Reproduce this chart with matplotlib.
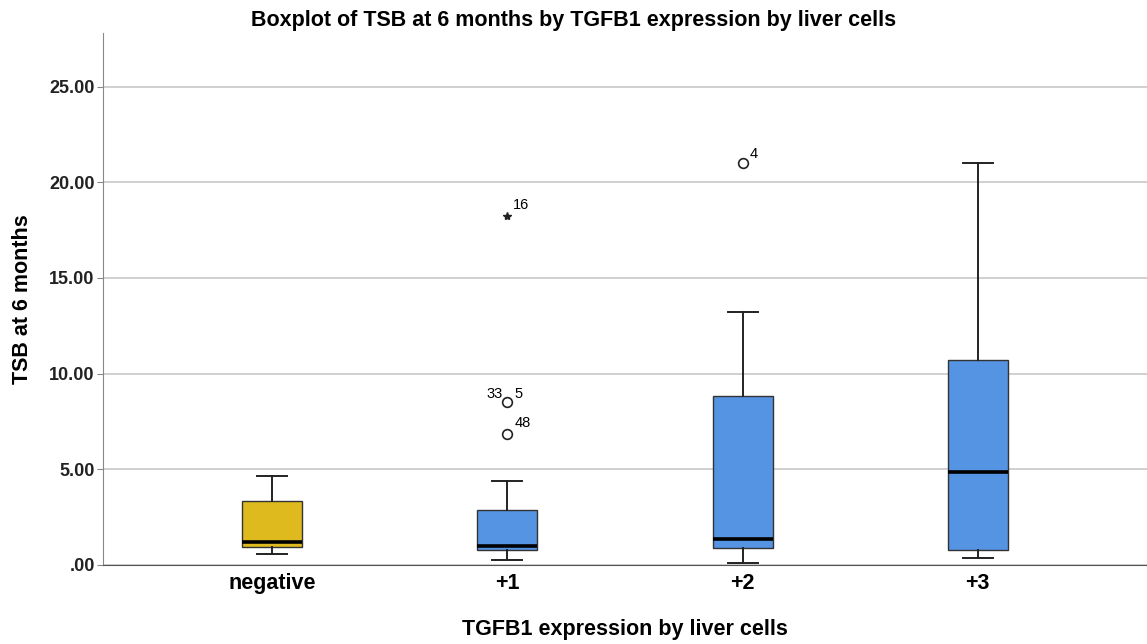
import matplotlib.pyplot as plt

plt.rcParams['font.family'] = ['Liberation Sans', 'DejaVu Sans']

categories = ["negative", "+1", "+2", "+3"]
whislo = [0.58, 0.26, 0.10, 0.37]
q1 = [0.94, 0.78, 0.89, 0.78]
med = [1.20, 0.99, 1.36, 4.86]
q3 = [3.35, 2.88, 8.84, 10.72]
whishi = [4.65, 4.39, 13.23, 21.03]

# outliers: (group index, value)
circle_out = [(1, 8.52), (1, 6.85), (2, 21.03)]
star_out = [(1, 18.25)]
# case labels: (group, value, text, dx, dy) offsets in points
case_labels = [(1, 8.52, "33", -15, 3), (1, 8.52, "5", 5, 3),
               (1, 6.85, "48", 5, 5), (1, 18.25, "16", 4, 5),
               (2, 21.03, "4", 5, 3)]

colors = ["#DFBA1F", "#5594E3", "#5594E3", "#5594E3"]


def main():
    fig = plt.figure(figsize=(11.47, 6.44), dpi=100)
    ax = fig.add_axes([0.0898, 0.1227, 0.9102, 0.8261])

    stats = []
    for i in range(len(categories)):
        stats.append({"whislo": whislo[i], "q1": q1[i], "med": med[i],
                      "q3": q3[i], "whishi": whishi[i], "fliers": []})

    bp = ax.bxp(stats, positions=range(len(categories)), widths=0.255,
                patch_artist=True, showfliers=False,
                boxprops=dict(edgecolor="#333333", linewidth=1.0),
                medianprops=dict(color="black", linewidth=2.6),
                whiskerprops=dict(color="#222222", linewidth=1.4),
                capprops=dict(color="#222222", linewidth=1.4),
                capwidths=0.128, zorder=3)
    for patch, c in zip(bp["boxes"], colors):
        patch.set_facecolor(c)

    for g, v in circle_out:
        ax.plot(g, v, marker="o", markersize=7, markerfacecolor="white",
                markeredgecolor="#222222", markeredgewidth=1.2, zorder=4)
    for g, v in star_out:
        ax.plot(g, v, marker="*", markersize=6, color="#222222", zorder=4)

    for g, v, txt, dx, dy in case_labels:
        ax.annotate(txt, (g, v), xytext=(dx, dy), textcoords="offset points",
                    fontsize=10.5)

    ax.set_xlim(-0.72, 3.72)
    ax.set_ylim(0, 27.8)
    ax.set_yticks([0, 5, 10, 15, 20, 25])
    ax.set_yticklabels([".00", "5.00", "10.00", "15.00", "20.00", "25.00"],
                       fontweight="bold", fontsize=13, color="#222222")
    ax.set_xticks(range(len(categories)))
    ax.set_xticklabels(categories, fontweight="bold", fontsize=15.5)
    ax.tick_params(axis="x", length=0, pad=6)
    ax.tick_params(axis="y", length=4, color="#888888", pad=2)

    ax.yaxis.grid(True, color="#C8C8C8", linewidth=1.2, zorder=0)
    ax.set_axisbelow(True)
    ax.spines["top"].set_visible(False)
    ax.spines["right"].set_visible(False)
    ax.spines["left"].set_color("#888888")
    ax.spines["bottom"].set_color("#555555")

    ax.set_ylabel("TSB at 6 months", fontsize=15.5, fontweight="bold",
                  labelpad=12)
    ax.set_xlabel("TGFB1 expression by liver cells", fontsize=15.5,
                  fontweight="bold", labelpad=18)
    fig.text(0.5, 0.96, "Boxplot of TSB at 6 months by TGFB1 expression by liver cells",
             ha="center", fontsize=15.5, fontweight="bold")

    fig.savefig("out.png", dpi=100)
    plt.close(fig)


main()
